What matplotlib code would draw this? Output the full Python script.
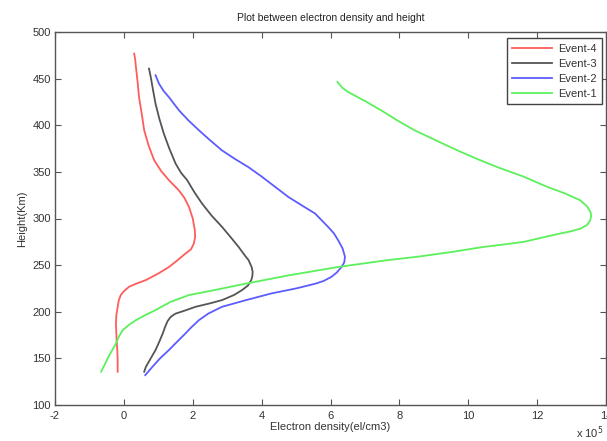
import matplotlib
matplotlib.use("Agg")
import matplotlib.pyplot as plt

plt.rcParams['font.family'] = ['Liberation Sans', 'DejaVu Sans']
plt.rcParams['axes.unicode_minus'] = False

# Electron density (x 10^5 el/cm3) versus height (km) for four events
event4_density = [0.30, 0.33, 0.35, 0.40, 0.44, 0.52, 0.59, 0.72, 0.88, 1.08, 1.31, 1.47, 1.60,
                  1.76, 1.89, 2.00, 2.06, 2.07, 2.03, 1.95, 1.79, 1.55, 1.31, 1.00, 0.64, 0.35,
                  0.15, 0.00, -0.09, -0.15, -0.18, -0.22, -0.23, -0.22, -0.21, -0.19, -0.18, -0.18]
event4_height = [476.8, 470.0, 462.5, 446.0, 430.0, 412.0, 394.6, 378.0, 362.5, 351.0, 341.0, 335.0, 330.0,
                 322.0, 312.5, 300.0, 287.5, 280.0, 273.0, 267.0, 262.5, 255.0, 248.0, 241.0, 234.0, 230.0,
                 226.8, 222.0, 217.9, 212.0, 205.0, 196.0, 187.5, 178.0, 169.6, 158.0, 148.0, 135.7]

event3_density = [0.73, 0.78, 0.85, 0.92, 1.03, 1.16, 1.32, 1.50, 1.66, 1.84, 2.05, 2.27, 2.55,
                  2.85, 3.10, 3.33, 3.52, 3.62, 3.71, 3.74, 3.73, 3.70, 3.60, 3.43, 3.20, 2.85,
                  2.50, 2.08, 1.75, 1.50, 1.36, 1.27, 1.20, 1.13, 1.03, 0.92, 0.78, 0.64, 0.59]
event3_height = [460.7, 451.8, 437.0, 423.0, 407.0, 391.0, 375.0, 359.0, 349.0, 341.0, 328.0, 316.0, 303.0,
                 291.0, 280.0, 269.6, 260.0, 255.4, 248.0, 242.8, 238.0, 234.0, 228.0, 223.2, 218.0, 212.5,
                 209.0, 205.3, 201.0, 198.0, 194.5, 190.0, 184.0, 176.8, 168.0, 159.0, 150.0, 141.0, 135.7]

event2_density = [0.92, 0.97, 1.02, 1.15, 1.31, 1.60, 1.88, 2.18, 2.50, 2.85, 3.22, 3.62, 4.00,
                  4.39, 4.78, 5.17, 5.55, 5.93, 6.10, 6.22, 6.35, 6.42, 6.40, 6.32, 6.18, 6.03,
                  5.80, 5.55, 5.00, 4.29, 3.50, 2.85, 2.45, 2.18, 1.95, 1.79, 1.55, 1.31, 1.05,
                  0.83, 0.62]
event2_height = [453.6, 449.0, 444.6, 437.0, 430.0, 416.0, 405.0, 394.6, 384.0, 373.0, 364.0, 355.0, 345.0,
                 334.0, 323.0, 314.0, 305.4, 291.0, 284.0, 276.8, 268.0, 259.0, 253.0, 248.0, 242.0, 237.5,
                 233.0, 230.0, 225.0, 219.7, 212.0, 205.3, 198.0, 191.0, 183.0, 176.8, 168.0, 159.0, 150.0,
                 141.0, 132.0]

event1_density = [6.20, 6.35, 6.51, 7.00, 7.47, 7.95, 8.44, 9.05, 9.69, 10.25, 10.85, 11.60, 12.29,
                  12.80, 13.25, 13.45, 13.55, 13.57, 13.54, 13.45, 13.25, 12.95, 12.68, 12.20, 11.62,
                  11.00, 10.46, 9.50, 8.53, 7.67, 6.22, 4.78, 3.33, 2.60, 1.89, 1.35, 0.92, 0.60,
                  0.35, 0.15, -0.04, -0.15, -0.23, -0.42, -0.66]
event1_height = [446.4, 440.0, 435.7, 426.0, 416.0, 405.0, 394.6, 384.0, 373.0, 364.0, 355.0, 345.0, 334.0,
                 327.0, 319.6, 313.0, 307.0, 303.0, 298.0, 293.0, 289.0, 286.0, 284.0, 280.0, 275.0,
                 272.0, 269.6, 264.0, 259.0, 255.4, 248.0, 239.0, 228.6, 223.0, 217.9, 210.5, 201.8, 196.0,
                 191.0, 186.0, 180.0, 173.0, 166.0, 153.6, 135.7]

x_ticks = [-2, 0, 2, 4, 6, 8, 10, 12, 14]
y_ticks = [100, 150, 200, 250, 300, 350, 400, 450, 500]

fig = plt.figure(figsize=(6.07, 4.41), dpi=100)
ax = fig.add_axes([55 / 607, 1 - 405 / 441, 551 / 607, 373 / 441])

lw = 1.3
ax.plot(event4_density, event4_height, color='#ff5c5c', lw=lw, label='Event-4')
ax.plot(event3_density, event3_height, color='#555555', lw=lw, label='Event-3')
ax.plot(event2_density, event2_height, color='#5c5cff', lw=lw, label='Event-2')
ax.plot(event1_density, event1_height, color='#5cf05c', lw=lw, label='Event-1')

ax.set_xlim(-2, 14)
ax.set_ylim(100, 500)
ax.set_xticks(x_ticks)
ax.set_yticks(y_ticks)
ax.tick_params(direction='in', length=4, width=0.8, colors='#555555',
               labelcolor='#333333', labelsize=8, top=True, right=True)
ax.tick_params(axis='x', pad=4)
ax.tick_params(axis='y', pad=3)
for s in ax.spines.values():
    s.set_color('#555555')
    s.set_linewidth(1.0)

ax.set_title('Plot between electron density and height', fontsize=7.5, color='#222222', pad=8)
ax.set_xlabel('Electron density(el/cm3)', fontsize=8, color='#333333', labelpad=1)
ax.set_ylabel('Height(Km)', fontsize=8, color='#333333', labelpad=4)
fig.text(576 / 607, 1 - 433 / 441, r'x 10$^5$', fontsize=8, color='#333333',
         ha='left', va='center')

leg = ax.legend(loc='upper right', bbox_to_anchor=(547 / 551, 0.983),
                fontsize=8, frameon=True, fancybox=False, framealpha=1,
                handlelength=3.6, handletextpad=0.5, labelspacing=0.45,
                borderpad=0.5, borderaxespad=0.0)
leg.get_frame().set_edgecolor('#444444')
leg.get_frame().set_linewidth(1.0)
for t in leg.get_texts():
    t.set_color('#333333')

fig.savefig('out.png', dpi=100)
